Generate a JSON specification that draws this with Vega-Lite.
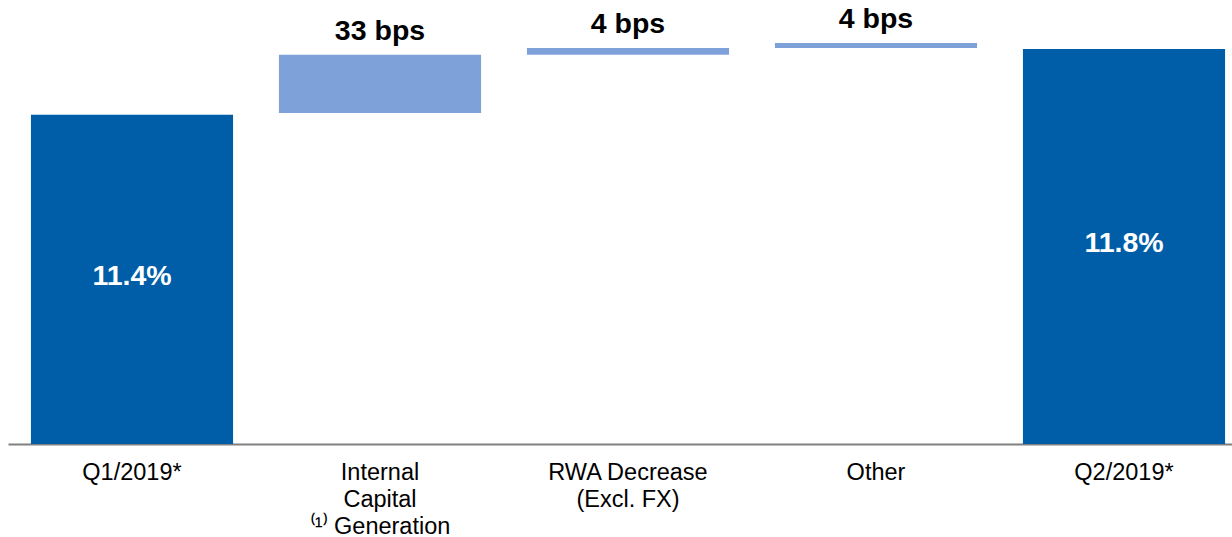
{
  "$schema": "https://vega.github.io/schema/vega-lite/v6.json",
  "width": 1224,
  "height": 444,
  "autosize": "none",
  "padding": {"left": 8, "top": 0, "right": 0, "bottom": 93},
  "background": "white",
  "config": {"view": {"stroke": null}},
  "data": {
    "values": [
      {"step": "Q1/2019*", "start": 9.4, "end": 11.4, "kind": "total", "label": "11.4%"},
      {"step": "Internal Capital Generation", "start": 11.41, "end": 11.765, "kind": "change", "label": "33 bps"},
      {"step": "RWA Decrease (Excl. FX)", "start": 11.765, "end": 11.806, "kind": "change", "label": "4 bps"},
      {"step": "Other", "start": 11.806, "end": 11.836, "kind": "change", "label": "4 bps"},
      {"step": "Q2/2019*", "start": 9.4, "end": 11.8, "kind": "total", "label": "11.8%"}
    ]
  },
  "encoding": {
    "x": {
      "field": "step",
      "type": "nominal",
      "sort": null,
      "scale": {"range": [0, 1240], "paddingInner": 0.185, "paddingOuter": 0.0925},
      "axis": {
        "title": null,
        "labelAngle": 0,
        "ticks": false,
        "domainColor": "#808080",
        "domainWidth": 2,
        "labelFont": "Liberation Sans",
        "labelFontSize": 23.5,
        "labelColor": "#000000",
        "labelLineHeight": 27,
        "labelPadding": 16,
        "labelLimit": 0,
        "labelExpr": "datum.value == 'Internal Capital Generation' ? ['Internal', 'Capital', '⁽¹⁾ Generation'] : datum.value == 'RWA Decrease (Excl. FX)' ? ['RWA Decrease', '(Excl. FX)'] : datum.value"
      }
    }
  },
  "layer": [
    {
      "mark": {"type": "bar", "clip": true},
      "encoding": {
        "y": {"field": "start", "type": "quantitative", "scale": {"domain": [9.4, 12.097], "nice": false, "zero": false}, "axis": null},
        "y2": {"field": "end"},
        "color": {"field": "kind", "type": "nominal", "scale": {"domain": ["total", "change"], "range": ["#005EA8", "#7DA1D8"]}, "legend": null}
      }
    },
    {
      "transform": [{"filter": "datum.kind == 'change'"}],
      "mark": {"type": "text", "font": "Liberation Sans", "fontWeight": "bold", "fontSize": 28.5, "baseline": "alphabetic", "dy": -15, "color": "#000000"},
      "encoding": {
        "y": {"field": "end", "type": "quantitative"},
        "text": {"field": "label"}
      }
    },
    {
      "transform": [{"filter": "datum.kind == 'total'"}, {"calculate": "(datum.start + datum.end) / 2", "as": "mid"}],
      "mark": {"type": "text", "font": "Liberation Sans", "fontWeight": "bold", "fontSize": 28.5, "baseline": "middle", "dy": -3, "color": "#ffffff"},
      "encoding": {
        "y": {"field": "mid", "type": "quantitative"},
        "text": {"field": "label"}
      }
    }
  ]
}
